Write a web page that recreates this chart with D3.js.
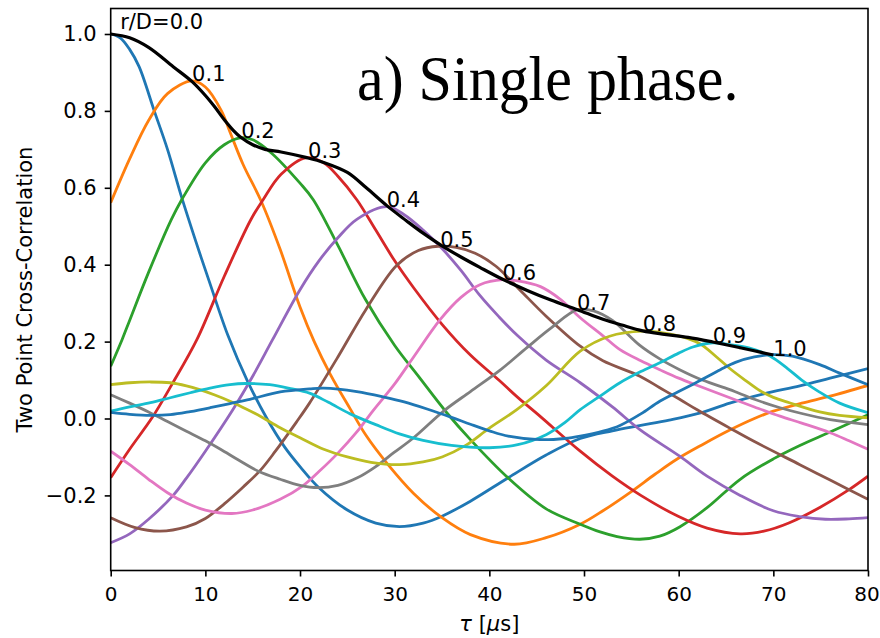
<!DOCTYPE html>
<html>
<head>
<meta charset="utf-8">
<script src="https://cdn.jsdelivr.net/npm/d3@7"></script>
<style>
  body { margin: 0; background: #fff; }
  svg { display: block; }
</style>
</head>
<body>
<svg id="chart" width="880" height="638"></svg>
<script>
// Two point cross-correlation versus time lag, one curve per probe separation r/D.
// Each series is a list of [tau (µs), correlation] pairs.
const separations = ["0.0", "0.1", "0.2", "0.3", "0.4", "0.5", "0.6", "0.7", "0.8", "0.9", "1.0"];

const rd00 = [[0,1.0],[1,0.99],[2,0.96],[3,0.915],[4.6,0.8],[6,0.7],[7.5,0.575],[9,0.46],[10.5,0.35],[12.4,0.215],[14.4,0.1],[16.5,0.0],[18.4,-0.075],[20,-0.125],[22,-0.18],[25,-0.238],[28,-0.272],[30.5,-0.281],[33,-0.272],[35,-0.254],[38,-0.215],[42,-0.154],[46,-0.095],[49.6,-0.052],[53,-0.032],[56,-0.018],[59,-0.004],[62.2,0.014],[65.4,0.04],[69,0.064],[72.8,0.085],[76,0.105],[80,0.13]];
const rd01 = [[0,0.561],[2,0.675],[4,0.775],[6,0.845],[8.6,0.878],[10,0.862],[11.7,0.8],[12.6,0.745],[14,0.66],[15.9,0.565],[17.9,0.44],[20,0.29],[21.5,0.2],[23.2,0.115],[25.3,0.025],[27,-0.045],[29.3,-0.12],[32,-0.195],[35,-0.258],[38,-0.302],[42.6,-0.327],[46,-0.31],[49.6,-0.275],[52,-0.24],[55,-0.19],[57.5,-0.145],[59.8,-0.106],[62.5,-0.068],[65.4,-0.03],[68,0.0],[70,0.019],[73,0.04],[76,0.058],[80,0.086]];
const rd02 = [[0,0.136],[1.2,0.205],[2,0.255],[4,0.38],[6.4,0.517],[7.5,0.569],[10,0.665],[12,0.712],[13.7,0.73],[15,0.725],[17,0.69],[20,0.612],[21.4,0.569],[24,0.45],[26.9,0.31],[30,0.19],[32.5,0.11],[35.5,0.015],[38,-0.055],[42,-0.155],[46,-0.235],[49.6,-0.275],[51.7,-0.295],[53.5,-0.307],[55.9,-0.314],[58,-0.306],[60.1,-0.282],[63,-0.232],[66.5,-0.158],[70,-0.105],[72.8,-0.07],[76,-0.035],[80,0.01]];
const rd03 = [[0,-0.154],[2,-0.08],[4.4,0.003],[6.5,0.09],[9.1,0.205],[12,0.37],[14.8,0.517],[16.1,0.569],[18,0.635],[20.6,0.678],[22.5,0.665],[24,0.63],[26,0.569],[28,0.49],[30,0.41],[32,0.34],[35,0.245],[38,0.165],[41,0.1],[43,0.055],[45.4,0.005],[49.6,-0.085],[53,-0.15],[56,-0.2],[60,-0.255],[63,-0.285],[66.5,-0.3],[69,-0.293],[71.7,-0.271],[75,-0.23],[78,-0.185],[80,-0.15]];
const rd04 = [[0,-0.323],[2,-0.3],[4,-0.262],[6.6,-0.2],[8,-0.155],[10,-0.085],[12.9,0.023],[15,0.11],[17.1,0.205],[20,0.335],[22,0.41],[24,0.47],[26,0.518],[29.2,0.551],[31,0.53],[33,0.49],[35,0.442],[37,0.385],[39,0.32],[41,0.265],[43,0.215],[46,0.152],[49.6,0.093],[53,0.03],[55.9,-0.029],[60.1,-0.098],[63,-0.15],[66.5,-0.2],[70,-0.24],[72.8,-0.255],[75.5,-0.262],[78,-0.261],[80,-0.258]];
const rd05 = [[0,-0.258],[2.5,-0.283],[5.2,-0.293],[8,-0.282],[10,-0.26],[12,-0.222],[14,-0.178],[15.8,-0.135],[17.4,-0.085],[19.6,-0.01],[21,0.04],[24,0.16],[27,0.285],[30.2,0.398],[32.5,0.437],[34.6,0.448],[36.5,0.445],[38.5,0.43],[40.7,0.396],[43.2,0.335],[46,0.266],[49.6,0.188],[52,0.15],[55.9,0.11],[58,0.08],[60.1,0.05],[62,0.022],[65.4,-0.025],[68,-0.06],[72.8,-0.12],[76,-0.16],[80,-0.21]];
const rd06 = [[0,-0.085],[2,-0.12],[4,-0.158],[6,-0.193],[8,-0.22],[10,-0.238],[12.8,-0.247],[15,-0.238],[17.9,-0.21],[20.3,-0.175],[22,-0.138],[24,-0.09],[26,-0.035],[27.7,0.02],[30,0.09],[32,0.16],[34.8,0.257],[37,0.315],[39,0.348],[41.4,0.361],[43,0.358],[45.4,0.343],[47.5,0.31],[49.6,0.262],[52,0.215],[53.8,0.179],[56,0.15],[58,0.127],[60,0.105],[62.2,0.084],[65.4,0.054],[68,0.03],[70.7,0.006],[73,-0.012],[76,-0.037],[78,-0.058],[80,-0.08]];
const rd07 = [[0,0.062],[2,0.04],[4,0.017],[6,-0.008],[8,-0.033],[10,-0.058],[11.6,-0.08],[13.5,-0.108],[15.6,-0.137],[17.9,-0.158],[20,-0.174],[21.9,-0.18],[24,-0.174],[26,-0.155],[28,-0.125],[29.9,-0.089],[32,-0.05],[35.2,0.02],[38,0.07],[41.1,0.125],[44,0.185],[46.5,0.235],[49.3,0.283],[51,0.28],[53,0.255],[55.9,0.19],[58,0.155],[60.1,0.127],[62.5,0.1],[65.4,0.075],[68,0.05],[70.7,0.028],[73,0.013],[76,-0.003],[80,-0.016]];
const rd08 = [[0,0.088],[2,0.093],[4.2,0.095],[6.3,0.093],[8,0.085],[9.4,0.075],[11,0.061],[12.6,0.045],[14.2,0.026],[15.8,0.006],[17.9,-0.024],[20,-0.05],[22.5,-0.08],[25,-0.1],[27.5,-0.114],[30.5,-0.12],[33,-0.113],[35,-0.1],[37.5,-0.07],[40,-0.025],[42.9,0.023],[46,0.085],[49.6,0.175],[52.7,0.214],[56.2,0.227],[58,0.224],[60.1,0.214],[62.2,0.195],[64,0.16],[65.4,0.13],[67,0.1],[68.6,0.072],[70,0.055],[71.7,0.041],[74.9,0.017],[77,0.008],[80,0.002]];
const rd09 = [[0,0.019],[2,0.03],[4.2,0.041],[6.3,0.054],[8.4,0.067],[10.5,0.079],[12.6,0.088],[14.2,0.091],[16.8,0.088],[19,0.078],[21,0.066],[23,0.042],[25.3,0.012],[28,-0.016],[30.5,-0.04],[33,-0.057],[36,-0.07],[40,-0.076],[43,-0.068],[46,-0.042],[48,-0.01],[49.6,0.023],[51.5,0.055],[53.8,0.093],[56,0.122],[58,0.145],[60,0.17],[61.5,0.186],[63.6,0.197],[65.4,0.192],[67.5,0.183],[69.6,0.163],[71.5,0.13],[73,0.1],[74.8,0.07],[77,0.04],[80,0.015]];
const rd10 = [[0,0.016],[2,0.011],[4.2,0.008],[6.3,0.01],[8.4,0.018],[10.5,0.028],[12.6,0.039],[14.7,0.05],[17.9,0.069],[21,0.077],[22.5,0.079],[26,0.07],[29,0.055],[31,0.043],[33.5,0.024],[36,0.003],[38,-0.015],[40,-0.032],[42,-0.046],[45.3,-0.055],[48,-0.052],[49.6,-0.046],[52,-0.033],[53.8,-0.018],[56,0.012],[58,0.045],[60,0.07],[62.2,0.098],[64.4,0.127],[66,0.146],[68,0.16],[70,0.166],[72,0.162],[74.9,0.14],[77,0.118],[80,0.088]];

// Line joining the correlation peaks of successive separations
const peakTrace = [[0,1.0],[2,0.99],[4,0.965],[6.6,0.915],[8.6,0.876],[10,0.84],[11,0.81],[12,0.777],[13,0.748],[13.7,0.732],[15,0.712],[16.3,0.7],[18,0.693],[20.6,0.679],[22.5,0.666],[25,0.64],[27,0.6],[29.2,0.553],[31.2,0.515],[33,0.482],[35,0.449],[37,0.42],[39,0.393],[41.4,0.362],[44,0.333],[46.5,0.308],[49.3,0.283],[52,0.258],[54,0.243],[56.2,0.228],[58.5,0.219],[61,0.211],[63.6,0.199],[66.5,0.184],[70,0.165]];

const curveLabels = ["r/D=0.0", "0.1", "0.2", "0.3", "0.4", "0.5", "0.6", "0.7", "0.8", "0.9", "1.0"];
const labelTau = [1.0, 8.6, 13.8, 20.85, 29.15, 34.8, 41.4, 49.25, 56.2, 63.6, 70.0];
const labelVal = [1.013, 0.877, 0.729, 0.678, 0.551, 0.447, 0.361, 0.282, 0.227, 0.197, 0.163];

const xTicks = [0, 10, 20, 30, 40, 50, 60, 70, 80];
const yTicks = [-0.2, 0.0, 0.2, 0.4, 0.6, 0.8, 1.0];

const series = [rd00, rd01, rd02, rd03, rd04, rd05, rd06, rd07, rd08, rd09, rd10];
const palette = d3.schemeCategory10;

const plot = { left: 110.7, right: 868, top: 8.5, bottom: 570.5 };
const font = "'DejaVu Sans', sans-serif";
const fontSize = 21;

const svg = d3.select("#chart");

const x = d3.scaleLinear().domain([0, 80]).range([plot.left, plot.right]);
const y = d3.scaleLinear().domain([-0.3953, 1.0663]).range([plot.bottom, plot.top]);

svg.append("defs").append("clipPath").attr("id", "plot-clip")
  .append("rect")
  .attr("x", plot.left).attr("y", plot.top)
  .attr("width", plot.right - plot.left).attr("height", plot.bottom - plot.top);

const line = d3.line()
  .x(d => x(d[0]))
  .y(d => y(d[1]))
  .curve(d3.curveCatmullRom.alpha(0.5));

const lines = svg.append("g").attr("clip-path", "url(#plot-clip)");

lines.selectAll("path.corr")
  .data(series)
  .join("path")
  .attr("class", "corr")
  .attr("d", line)
  .attr("fill", "none")
  .attr("stroke", (d, i) => palette[i % 10])
  .attr("stroke-width", 2.8)
  .attr("stroke-linejoin", "round");

lines.append("path")
  .attr("d", line(peakTrace))
  .attr("fill", "none")
  .attr("stroke", "#000")
  .attr("stroke-width", 3.2)
  .attr("stroke-linejoin", "round");

// Separation labels at each peak
svg.append("g").selectAll("text")
  .data(curveLabels)
  .join("text")
  .attr("x", (d, i) => x(labelTau[i]))
  .attr("y", (d, i) => y(labelVal[i]))
  .attr("font-family", font)
  .attr("font-size", fontSize)
  .attr("fill", "#000")
  .text(d => d);

// Axes
const fmt = d => (d < 0 ? "\u2212" + Math.abs(d).toFixed(1) : d.toFixed(1));

const xAxis = svg.append("g")
  .attr("transform", `translate(0,${plot.bottom})`)
  .call(d3.axisBottom(x).tickValues(xTicks).tickFormat(d3.format("d")).tickSize(6).tickPadding(10.5));

const yAxis = svg.append("g")
  .attr("transform", `translate(${plot.left},0)`)
  .call(d3.axisLeft(y).tickValues(yTicks).tickFormat(fmt).tickSize(6).tickPadding(8));

[xAxis, yAxis].forEach(g => {
  g.select(".domain").remove();
  g.selectAll(".tick line").attr("stroke", "#000").attr("stroke-width", 1.6);
  g.selectAll(".tick text")
    .attr("font-family", font)
    .attr("font-size", fontSize)
    .attr("fill", "#000");
});
xAxis.selectAll(".tick text").attr("font-size", 20);
// keep the last tick label inside the canvas edge
xAxis.selectAll(".tick text").filter(d => d === 80).attr("dx", -1.5);

// Frame
svg.append("rect")
  .attr("x", plot.left).attr("y", plot.top)
  .attr("width", plot.right - plot.left).attr("height", plot.bottom - plot.top)
  .attr("fill", "none")
  .attr("stroke", "#000")
  .attr("stroke-width", 1.6);

// Axis titles
const xTitle = svg.append("text")
  .attr("x", (plot.left + plot.right) / 2)
  .attr("y", 631)
  .attr("text-anchor", "middle")
  .attr("font-family", font)
  .attr("font-size", fontSize)
  .attr("fill", "#000");
xTitle.append("tspan").attr("font-style", "italic").text("\u03c4");
xTitle.append("tspan").text(" [");
xTitle.append("tspan").attr("font-style", "italic").text("\u03bc");
xTitle.append("tspan").text("s]");

svg.append("text")
  .attr("transform", `translate(31.5,${(plot.top + plot.bottom) / 2}) rotate(-90)`)
  .attr("text-anchor", "middle")
  .attr("font-family", font)
  .attr("font-size", fontSize)
  .attr("fill", "#000")
  .text("Two Point Cross-Correlation");

// Panel title, stretched slightly upward from its baseline
svg.append("text")
  .attr("transform", "translate(357,99.5) scale(1,1.07)")
  .attr("font-family", "'Liberation Serif', serif")
  .attr("font-size", 60)
  .attr("fill", "#000")
  .text("a) Single phase.");
</script>
</body>
</html>
